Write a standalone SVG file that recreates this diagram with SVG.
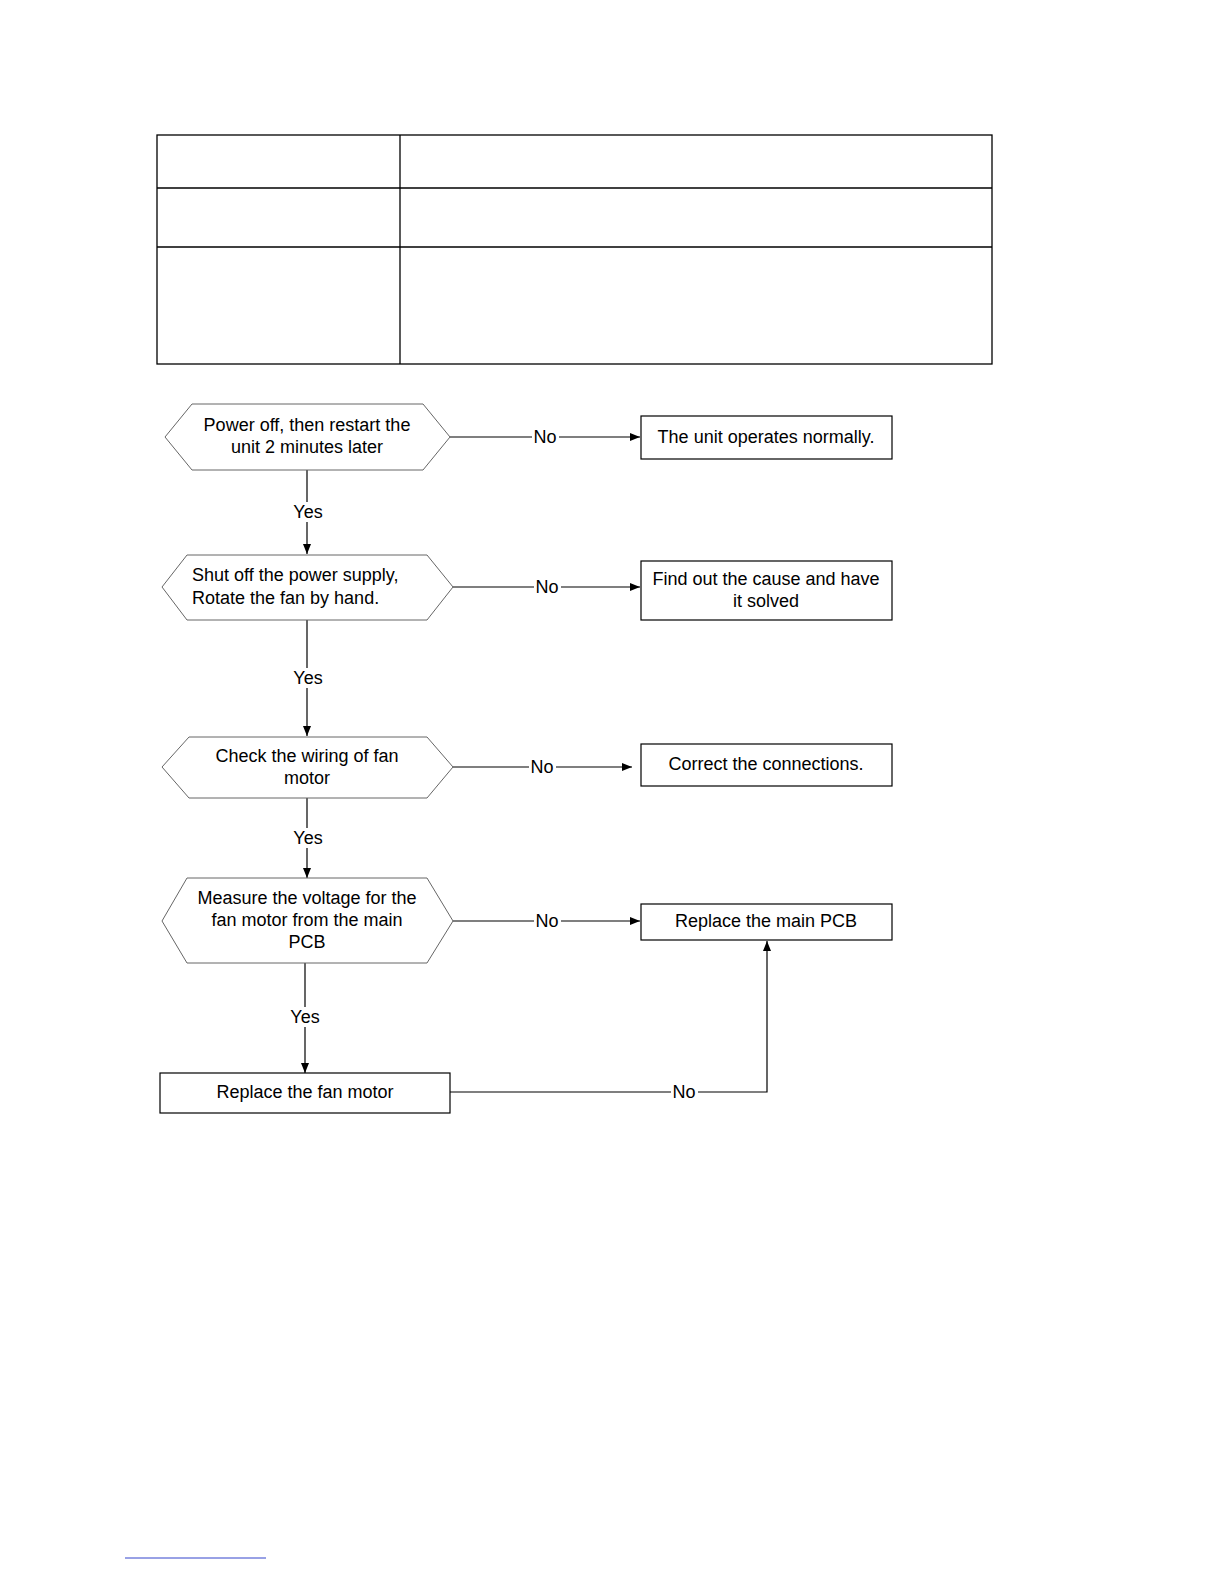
<svg xmlns="http://www.w3.org/2000/svg" width="1224" height="1584" viewBox="0 0 1224 1584">
<defs>
<marker id="arr" markerWidth="10" markerHeight="8" refX="10" refY="4" orient="auto" markerUnits="userSpaceOnUse">
<path d="M0,0 L10,4 L0,8 Z" fill="#000"/>
</marker>
<style>
.t{font-family:"Liberation Sans",Arial,sans-serif;font-size:18px;fill:#000;text-anchor:middle;dominant-baseline:central}
.lab{font-family:"Liberation Sans",Arial,sans-serif;font-size:18px;fill:#000;text-anchor:middle;dominant-baseline:central}
.hex{fill:#fff;stroke:#666;stroke-width:1}
.box{fill:#fff;stroke:#000;stroke-width:1.2}
.ln{fill:none;stroke:#000;stroke-width:1.2}
.tbl{fill:none;stroke:#000;stroke-width:1.3}
.bg{fill:#fff}
</style>
</defs>
<rect width="1224" height="1584" fill="#fff"/>
<g id="table">
<rect class="tbl" x="157" y="135" width="835" height="229"/>
<line class="tbl" x1="400" y1="135" x2="400" y2="364"/>
<line class="tbl" x1="157" y1="188" x2="992" y2="188"/>
<line class="tbl" x1="157" y1="247" x2="992" y2="247"/>
</g>
<g id="connectors">
<line class="ln" x1="450" y1="437" x2="640" y2="437" marker-end="url(#arr)"/>
<line class="ln" x1="307" y1="470" x2="307" y2="554" marker-end="url(#arr)"/>
<line class="ln" x1="453" y1="587" x2="640" y2="587" marker-end="url(#arr)"/>
<line class="ln" x1="307" y1="620" x2="307" y2="736" marker-end="url(#arr)"/>
<line class="ln" x1="453" y1="767" x2="632" y2="767" marker-end="url(#arr)"/>
<line class="ln" x1="307" y1="798" x2="307" y2="878" marker-end="url(#arr)"/>
<line class="ln" x1="453" y1="921" x2="640" y2="921" marker-end="url(#arr)"/>
<line class="ln" x1="305" y1="963" x2="305" y2="1073" marker-end="url(#arr)"/>
<polyline class="ln" points="450,1092 767,1092 767,941" marker-end="url(#arr)"/>
<rect class="bg" x="532" y="428" width="27" height="18"/>
<text class="lab" x="545" y="437">No</text>
<rect class="bg" x="292" y="502" width="31" height="20"/>
<text class="lab" x="308" y="512">Yes</text>
<rect class="bg" x="534" y="578" width="27" height="18"/>
<text class="lab" x="547" y="587">No</text>
<rect class="bg" x="292" y="668" width="31" height="20"/>
<text class="lab" x="308" y="678">Yes</text>
<rect class="bg" x="529" y="758" width="27" height="18"/>
<text class="lab" x="542" y="767">No</text>
<rect class="bg" x="292" y="828" width="31" height="20"/>
<text class="lab" x="308" y="838">Yes</text>
<rect class="bg" x="534" y="912" width="27" height="18"/>
<text class="lab" x="547" y="921">No</text>
<rect class="bg" x="289" y="1007" width="31" height="20"/>
<text class="lab" x="305" y="1017">Yes</text>
<rect class="bg" x="671" y="1083" width="27" height="18"/>
<text class="lab" x="684" y="1092">No</text>
</g>
<g id="n1">
<polygon class="hex" points="165,437 192,404 423,404 450,437 423,470 192,470"/>
<text class="t" x="307" y="425">Power off, then restart the</text>
<text class="t" x="307" y="447">unit 2 minutes later</text>
</g>
<g id="n2">
<rect class="box" x="641" y="416" width="251" height="43"/>
<text class="t" x="766" y="437">The unit operates normally.</text>
</g>
<g id="n3">
<polygon class="hex" points="162,587 187,555 427,555 453,587 427,620 187,620"/>
<text class="t" x="192" y="575" style="text-anchor:start">Shut off the power supply,</text>
<text class="t" x="192" y="598" style="text-anchor:start">Rotate the fan by hand.</text>
</g>
<g id="n4">
<rect class="box" x="641" y="561" width="251" height="59"/>
<text class="t" x="766" y="579">Find out the cause and have</text>
<text class="t" x="766" y="601">it solved</text>
</g>
<g id="n5">
<polygon class="hex" points="162,767 189,737 427,737 453,767 427,798 189,798"/>
<text class="t" x="307" y="756">Check the wiring of fan</text>
<text class="t" x="307" y="778">motor</text>
</g>
<g id="n6">
<rect class="box" x="641" y="744" width="251" height="42"/>
<text class="t" x="766" y="764">Correct the connections.</text>
</g>
<g id="n7">
<polygon class="hex" points="162,921 187,878 427,878 453,921 427,963 187,963"/>
<text class="t" x="307" y="898">Measure the voltage for the</text>
<text class="t" x="307" y="920">fan motor from the main</text>
<text class="t" x="307" y="942">PCB</text>
</g>
<g id="n8">
<rect class="box" x="641" y="904" width="251" height="36"/>
<text class="t" x="766" y="921">Replace the main PCB</text>
</g>
<g id="n9">
<rect class="box" x="160" y="1073" width="290" height="40"/>
<text class="t" x="305" y="1092">Replace the fan motor</text>
</g>
<line x1="125" y1="1558" x2="266" y2="1558" stroke="#3344cc" stroke-width="1"/>
</svg>
